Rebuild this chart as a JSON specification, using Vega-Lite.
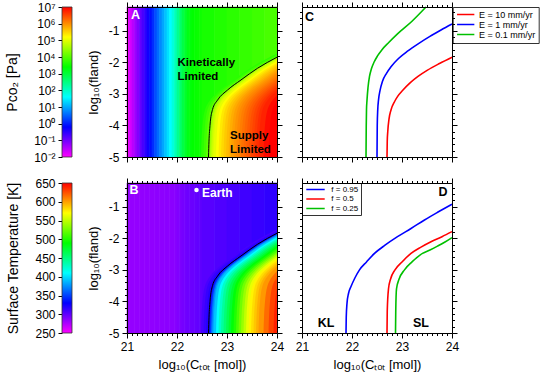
{
"$schema":"https://vega.github.io/schema/vega-lite/v6.json",
"padding":{"left":5,"top":1,"right":5,"bottom":5},
"config":{
 "font":"Liberation Sans",
 "view":{"stroke":null},
 "axis":{"labelFont":"Liberation Sans","titleFont":"Liberation Sans","labelFontSize":12,"titleFontSize":13,"titleFontWeight":"normal","labelColor":"#000","titleColor":"#000","tickColor":"#000","domainColor":"#000","grid":false,"labelFlush":false,"labelOverlap":false,"tickWidth":1,"domainWidth":1},
 "legend":{"labelFont":"Liberation Sans"}
},
"columns":3,
"spacing":{"row":26,"column":25},
"bounds":"flush",
"align":"each",
"resolve":{"scale":{"color":"independent","fill":"independent","stroke":"independent","x":"independent","y":"independent"},"legend":{"color":"independent","fill":"independent","stroke":"independent"}},
"datasets":{
 "kl":[
  {"x":21,"x2":21.05,"v":-1.9},{"x":21.05,"x2":21.1,"v":-1.7},{"x":21.1,"x2":21.15,"v":-1.5},{"x":21.15,"x2":21.2,"v":-1.3},{"x":21.2,"x2":21.25,"v":-1.1},{"x":21.25,"x2":21.3,"v":-0.9},{"x":21.3,"x2":21.35,"v":-0.71},{"x":21.35,"x2":21.4,"v":-0.52},{"x":21.4,"x2":21.45,"v":-0.32},{"x":21.45,"x2":21.5,"v":-0.11},{"x":21.5,"x2":21.55,"v":0.11},{"x":21.55,"x2":21.6,"v":0.34},{"x":21.6,"x2":21.65,"v":0.56},{"x":21.65,"x2":21.7,"v":0.77},{"x":21.7,"x2":21.75,"v":0.97},{"x":21.75,"x2":21.8,"v":1.17},{"x":21.8,"x2":21.85,"v":1.38},{"x":21.85,"x2":21.9,"v":1.59},{"x":21.9,"x2":21.95,"v":1.84},{"x":21.95,"x2":22,"v":2.11},{"x":22,"x2":22.05,"v":2.39},{"x":22.05,"x2":22.1,"v":2.66},{"x":22.1,"x2":22.15,"v":2.9},{"x":22.15,"x2":22.2,"v":3.1},{"x":22.2,"x2":22.25,"v":3.25},{"x":22.25,"x2":22.3,"v":3.34},{"x":22.3,"x2":22.35,"v":3.4},{"x":22.35,"x2":22.4,"v":3.44},{"x":22.4,"x2":22.45,"v":3.47},{"x":22.45,"x2":22.5,"v":3.5},{"x":22.5,"x2":22.75,"v":3.56},{"x":22.75,"x2":23,"v":3.63},{"x":23,"x2":23.25,"v":3.7},{"x":23.25,"x2":23.5,"v":3.77},{"x":23.5,"x2":23.75,"v":3.84},{"x":23.75,"x2":24,"v":3.91}
 ],
 "lev":[
  {"v":3.7,"x":22.48,"y":-5},{"v":3.7,"x":22.49,"y":-4.5},{"v":3.7,"x":22.51,"y":-4},{"v":3.7,"x":22.56,"y":-3.5},{"v":3.7,"x":22.66,"y":-3.2},{"v":3.7,"x":22.86,"y":-2.88},{"v":3.7,"x":23.13,"y":-2.56},{"v":3.7,"x":23.46,"y":-2.19},{"v":3.7,"x":23.85,"y":-1.84},{"v":3.7,"x":24.3,"y":-1.5},
  {"v":3.85,"x":22.53,"y":-5},{"v":3.85,"x":22.54,"y":-4.5},{"v":3.85,"x":22.56,"y":-4},{"v":3.85,"x":22.61,"y":-3.5},{"v":3.85,"x":22.71,"y":-3.2},{"v":3.85,"x":22.91,"y":-2.88},{"v":3.85,"x":23.18,"y":-2.56},{"v":3.85,"x":23.51,"y":-2.19},{"v":3.85,"x":23.9,"y":-1.84},{"v":3.85,"x":24.35,"y":-1.5},
  {"v":4.05,"x":22.58,"y":-5},{"v":4.05,"x":22.59,"y":-4.5},{"v":4.05,"x":22.61,"y":-4},{"v":4.05,"x":22.66,"y":-3.5},{"v":4.05,"x":22.76,"y":-3.2},{"v":4.05,"x":22.96,"y":-2.88},{"v":4.05,"x":23.23,"y":-2.56},{"v":4.05,"x":23.56,"y":-2.19},{"v":4.05,"x":23.95,"y":-1.84},{"v":4.05,"x":24.4,"y":-1.5},
  {"v":4.35,"x":22.63,"y":-5},{"v":4.35,"x":22.64,"y":-4.5},{"v":4.35,"x":22.66,"y":-4},{"v":4.35,"x":22.71,"y":-3.5},{"v":4.35,"x":22.81,"y":-3.2},{"v":4.35,"x":23.01,"y":-2.88},{"v":4.35,"x":23.28,"y":-2.56},{"v":4.35,"x":23.61,"y":-2.19},{"v":4.35,"x":24,"y":-1.84},{"v":4.35,"x":24.45,"y":-1.5},
  {"v":4.6,"x":22.655,"y":-5},{"v":4.6,"x":22.665,"y":-4.5},{"v":4.6,"x":22.685,"y":-4},{"v":4.6,"x":22.735,"y":-3.5},{"v":4.6,"x":22.835,"y":-3.2},{"v":4.6,"x":23.035,"y":-2.88},{"v":4.6,"x":23.305,"y":-2.56},{"v":4.6,"x":23.635,"y":-2.19},{"v":4.6,"x":24.025,"y":-1.84},
  {"v":4.78,"x":22.68,"y":-5},{"v":4.78,"x":22.69,"y":-4.5},{"v":4.78,"x":22.71,"y":-4},{"v":4.78,"x":22.76,"y":-3.5},{"v":4.78,"x":22.86,"y":-3.2},{"v":4.78,"x":23.06,"y":-2.88},{"v":4.78,"x":23.33,"y":-2.56},{"v":4.78,"x":23.66,"y":-2.19},{"v":4.78,"x":24.05,"y":-1.84},
  {"v":4.92,"x":22.705,"y":-5},{"v":4.92,"x":22.715,"y":-4.5},{"v":4.92,"x":22.735,"y":-4},{"v":4.92,"x":22.785,"y":-3.5},{"v":4.92,"x":22.885,"y":-3.2},{"v":4.92,"x":23.085,"y":-2.88},{"v":4.92,"x":23.355,"y":-2.56},{"v":4.92,"x":23.685,"y":-2.19},{"v":4.92,"x":24.075,"y":-1.84},
  {"v":5.03,"x":22.73,"y":-5},{"v":5.03,"x":22.74,"y":-4.5},{"v":5.03,"x":22.76,"y":-4},{"v":5.03,"x":22.81,"y":-3.5},{"v":5.03,"x":22.91,"y":-3.2},{"v":5.03,"x":23.11,"y":-2.88},{"v":5.03,"x":23.38,"y":-2.56},{"v":5.03,"x":23.71,"y":-2.19},{"v":5.03,"x":24.1,"y":-1.84},
  {"v":5.2,"x":22.78,"y":-5},{"v":5.2,"x":22.79,"y":-4.5},{"v":5.2,"x":22.81,"y":-4},{"v":5.2,"x":22.86,"y":-3.5},{"v":5.2,"x":22.96,"y":-3.2},{"v":5.2,"x":23.16,"y":-2.88},{"v":5.2,"x":23.43,"y":-2.56},{"v":5.2,"x":23.76,"y":-2.19},{"v":5.2,"x":24.15,"y":-1.84},
  {"v":5.35,"x":22.83,"y":-5},{"v":5.35,"x":22.84,"y":-4.5},{"v":5.35,"x":22.86,"y":-4},{"v":5.35,"x":22.91,"y":-3.5},{"v":5.35,"x":23.01,"y":-3.2},{"v":5.35,"x":23.21,"y":-2.88},{"v":5.35,"x":23.48,"y":-2.56},{"v":5.35,"x":23.81,"y":-2.19},{"v":5.35,"x":24.2,"y":-1.84},
  {"v":5.47,"x":22.88,"y":-5},{"v":5.47,"x":22.89,"y":-4.5},{"v":5.47,"x":22.91,"y":-4},{"v":5.47,"x":22.96,"y":-3.5},{"v":5.47,"x":23.06,"y":-3.2},{"v":5.47,"x":23.26,"y":-2.88},{"v":5.47,"x":23.53,"y":-2.56},{"v":5.47,"x":23.86,"y":-2.19},{"v":5.47,"x":24.25,"y":-1.84},
  {"v":5.58,"x":22.93,"y":-5},{"v":5.58,"x":22.94,"y":-4.5},{"v":5.58,"x":22.96,"y":-4},{"v":5.58,"x":23.01,"y":-3.5},{"v":5.58,"x":23.11,"y":-3.2},{"v":5.58,"x":23.31,"y":-2.88},{"v":5.58,"x":23.58,"y":-2.56},{"v":5.58,"x":23.91,"y":-2.19},{"v":5.58,"x":24.3,"y":-1.84},
  {"v":5.68,"x":22.98,"y":-5},{"v":5.68,"x":22.99,"y":-4.5},{"v":5.68,"x":23.01,"y":-4},{"v":5.68,"x":23.06,"y":-3.5},{"v":5.68,"x":23.16,"y":-3.2},{"v":5.68,"x":23.36,"y":-2.88},{"v":5.68,"x":23.63,"y":-2.56},{"v":5.68,"x":23.96,"y":-2.19},{"v":5.68,"x":24.35,"y":-1.84},
  {"v":5.78,"x":23.03,"y":-5},{"v":5.78,"x":23.04,"y":-4.5},{"v":5.78,"x":23.06,"y":-4},{"v":5.78,"x":23.11,"y":-3.5},{"v":5.78,"x":23.21,"y":-3.2},{"v":5.78,"x":23.41,"y":-2.88},{"v":5.78,"x":23.68,"y":-2.56},{"v":5.78,"x":24.01,"y":-2.19},
  {"v":5.88,"x":23.08,"y":-5},{"v":5.88,"x":23.09,"y":-4.5},{"v":5.88,"x":23.11,"y":-4},{"v":5.88,"x":23.16,"y":-3.5},{"v":5.88,"x":23.26,"y":-3.2},{"v":5.88,"x":23.46,"y":-2.88},{"v":5.88,"x":23.73,"y":-2.56},{"v":5.88,"x":24.06,"y":-2.19},
  {"v":5.96,"x":23.13,"y":-5},{"v":5.96,"x":23.14,"y":-4.5},{"v":5.96,"x":23.16,"y":-4},{"v":5.96,"x":23.21,"y":-3.5},{"v":5.96,"x":23.31,"y":-3.2},{"v":5.96,"x":23.51,"y":-2.88},{"v":5.96,"x":23.78,"y":-2.56},{"v":5.96,"x":24.11,"y":-2.19},
  {"v":6.04,"x":23.18,"y":-5},{"v":6.04,"x":23.19,"y":-4.5},{"v":6.04,"x":23.21,"y":-4},{"v":6.04,"x":23.26,"y":-3.5},{"v":6.04,"x":23.36,"y":-3.2},{"v":6.04,"x":23.56,"y":-2.88},{"v":6.04,"x":23.83,"y":-2.56},{"v":6.04,"x":24.16,"y":-2.19},
  {"v":6.12,"x":23.23,"y":-5},{"v":6.12,"x":23.24,"y":-4.5},{"v":6.12,"x":23.26,"y":-4},{"v":6.12,"x":23.31,"y":-3.5},{"v":6.12,"x":23.41,"y":-3.2},{"v":6.12,"x":23.61,"y":-2.88},{"v":6.12,"x":23.88,"y":-2.56},{"v":6.12,"x":24.21,"y":-2.19},
  {"v":6.2,"x":23.28,"y":-5},{"v":6.2,"x":23.29,"y":-4.5},{"v":6.2,"x":23.31,"y":-4},{"v":6.2,"x":23.36,"y":-3.5},{"v":6.2,"x":23.46,"y":-3.2},{"v":6.2,"x":23.66,"y":-2.88},{"v":6.2,"x":23.93,"y":-2.56},{"v":6.2,"x":24.26,"y":-2.19},
  {"v":6.28,"x":23.33,"y":-5},{"v":6.28,"x":23.34,"y":-4.5},{"v":6.28,"x":23.36,"y":-4},{"v":6.28,"x":23.41,"y":-3.5},{"v":6.28,"x":23.51,"y":-3.2},{"v":6.28,"x":23.71,"y":-2.88},{"v":6.28,"x":23.98,"y":-2.56},{"v":6.28,"x":24.31,"y":-2.19},
  {"v":6.36,"x":23.38,"y":-5},{"v":6.36,"x":23.39,"y":-4.5},{"v":6.36,"x":23.41,"y":-4},{"v":6.36,"x":23.46,"y":-3.5},{"v":6.36,"x":23.56,"y":-3.2},{"v":6.36,"x":23.76,"y":-2.88},{"v":6.36,"x":24.03,"y":-2.56},
  {"v":6.44,"x":23.43,"y":-5},{"v":6.44,"x":23.44,"y":-4.5},{"v":6.44,"x":23.46,"y":-4},{"v":6.44,"x":23.51,"y":-3.5},{"v":6.44,"x":23.61,"y":-3.2},{"v":6.44,"x":23.81,"y":-2.88},{"v":6.44,"x":24.08,"y":-2.56},
  {"v":6.52,"x":23.48,"y":-5},{"v":6.52,"x":23.49,"y":-4.5},{"v":6.52,"x":23.51,"y":-4},{"v":6.52,"x":23.56,"y":-3.5},{"v":6.52,"x":23.66,"y":-3.2},{"v":6.52,"x":23.86,"y":-2.88},{"v":6.52,"x":24.13,"y":-2.56},
  {"v":6.6,"x":23.53,"y":-5},{"v":6.6,"x":23.54,"y":-4.5},{"v":6.6,"x":23.56,"y":-4},{"v":6.6,"x":23.61,"y":-3.5},{"v":6.6,"x":23.71,"y":-3.2},{"v":6.6,"x":23.91,"y":-2.88},{"v":6.6,"x":24.18,"y":-2.56},
  {"v":6.68,"x":23.58,"y":-5},{"v":6.68,"x":23.59,"y":-4.5},{"v":6.68,"x":23.61,"y":-4},{"v":6.68,"x":23.66,"y":-3.5},{"v":6.68,"x":23.76,"y":-3.2},{"v":6.68,"x":23.96,"y":-2.88},{"v":6.68,"x":24.23,"y":-2.56},
  {"v":6.76,"x":23.63,"y":-5},{"v":6.76,"x":23.64,"y":-4.5},{"v":6.76,"x":23.66,"y":-4},{"v":6.76,"x":23.71,"y":-3.5},{"v":6.76,"x":23.81,"y":-3.2},{"v":6.76,"x":24.01,"y":-2.88},
  {"v":6.92,"x":23.73,"y":-5},{"v":6.92,"x":23.74,"y":-4.5},{"v":6.92,"x":23.76,"y":-4},{"v":6.92,"x":23.81,"y":-3.5},{"v":6.92,"x":23.91,"y":-3.2},{"v":6.92,"x":24.11,"y":-2.88},
  {"v":7.08,"x":23.83,"y":-5},{"v":7.08,"x":23.84,"y":-4.5},{"v":7.08,"x":23.86,"y":-4},{"v":7.08,"x":23.91,"y":-3.5},{"v":7.08,"x":24.01,"y":-3.2},
  {"v":7.22,"x":23.93,"y":-5},{"v":7.22,"x":23.94,"y":-4.5},{"v":7.22,"x":23.96,"y":-4},{"v":7.22,"x":24.01,"y":-3.5}
 ],
 "ctr":[{"x":22.63,"y":-5},{"x":22.64,"y":-4.5},{"x":22.66,"y":-4},{"x":22.71,"y":-3.5},{"x":22.81,"y":-3.2},{"x":23.01,"y":-2.88},{"x":23.28,"y":-2.56},{"x":23.61,"y":-2.19},{"x":24,"y":-1.84}],
 "linesC":[
  {"s":"E = 10 mm/yr","x":22.7,"y":-5},{"s":"E = 10 mm/yr","x":22.705,"y":-4.5},{"s":"E = 10 mm/yr","x":22.715,"y":-4.2},{"s":"E = 10 mm/yr","x":22.74,"y":-3.8},{"s":"E = 10 mm/yr","x":22.78,"y":-3.51},{"s":"E = 10 mm/yr","x":22.85,"y":-3.25},{"s":"E = 10 mm/yr","x":22.91,"y":-3.09},{"s":"E = 10 mm/yr","x":23.02,"y":-2.88},{"s":"E = 10 mm/yr","x":23.15,"y":-2.67},{"s":"E = 10 mm/yr","x":23.32,"y":-2.45},{"s":"E = 10 mm/yr","x":23.51,"y":-2.25},{"s":"E = 10 mm/yr","x":23.75,"y":-2.04},{"s":"E = 10 mm/yr","x":24,"y":-1.84},
  {"s":"E = 1 mm/yr","x":22.5,"y":-5},{"s":"E = 1 mm/yr","x":22.505,"y":-4},{"s":"E = 1 mm/yr","x":22.515,"y":-3.5},{"s":"E = 1 mm/yr","x":22.53,"y":-3.2},{"s":"E = 1 mm/yr","x":22.56,"y":-2.9},{"s":"E = 1 mm/yr","x":22.61,"y":-2.6},{"s":"E = 1 mm/yr","x":22.69,"y":-2.35},{"s":"E = 1 mm/yr","x":22.78,"y":-2.14},{"s":"E = 1 mm/yr","x":22.93,"y":-1.88},{"s":"E = 1 mm/yr","x":23.11,"y":-1.65},{"s":"E = 1 mm/yr","x":23.33,"y":-1.41},{"s":"E = 1 mm/yr","x":23.55,"y":-1.19},{"s":"E = 1 mm/yr","x":23.78,"y":-0.98},{"s":"E = 1 mm/yr","x":24,"y":-0.79},
  {"s":"E = 0.1 mm/yr","x":22.28,"y":-5},{"s":"E = 0.1 mm/yr","x":22.285,"y":-4},{"s":"E = 0.1 mm/yr","x":22.29,"y":-3.5},{"s":"E = 0.1 mm/yr","x":22.3,"y":-3.2},{"s":"E = 0.1 mm/yr","x":22.32,"y":-2.8},{"s":"E = 0.1 mm/yr","x":22.35,"y":-2.45},{"s":"E = 0.1 mm/yr","x":22.39,"y":-2.2},{"s":"E = 0.1 mm/yr","x":22.44,"y":-2},{"s":"E = 0.1 mm/yr","x":22.51,"y":-1.8},{"s":"E = 0.1 mm/yr","x":22.6,"y":-1.6},{"s":"E = 0.1 mm/yr","x":22.73,"y":-1.38},{"s":"E = 0.1 mm/yr","x":22.91,"y":-1.1},{"s":"E = 0.1 mm/yr","x":23.2,"y":-0.7},{"s":"E = 0.1 mm/yr","x":23.48,"y":-0.25}
 ],
 "linesD":[
  {"s":"f = 0.95","x":21.88,"y":-5},{"s":"f = 0.95","x":21.885,"y":-4.5},{"s":"f = 0.95","x":21.9,"y":-4.06},{"s":"f = 0.95","x":21.93,"y":-3.75},{"s":"f = 0.95","x":21.98,"y":-3.53},{"s":"f = 0.95","x":22.06,"y":-3.25},{"s":"f = 0.95","x":22.15,"y":-3},{"s":"f = 0.95","x":22.29,"y":-2.75},{"s":"f = 0.95","x":22.45,"y":-2.48},{"s":"f = 0.95","x":22.66,"y":-2.22},{"s":"f = 0.95","x":22.91,"y":-1.95},{"s":"f = 0.95","x":23.18,"y":-1.69},{"s":"f = 0.95","x":23.45,"y":-1.42},{"s":"f = 0.95","x":23.72,"y":-1.17},{"s":"f = 0.95","x":24,"y":-0.92},
  {"s":"f = 0.5","x":22.7,"y":-5},{"s":"f = 0.5","x":22.705,"y":-4.3},{"s":"f = 0.5","x":22.73,"y":-3.6},{"s":"f = 0.5","x":22.77,"y":-3.3},{"s":"f = 0.5","x":22.86,"y":-3},{"s":"f = 0.5","x":23,"y":-2.75},{"s":"f = 0.5","x":23.18,"y":-2.48},{"s":"f = 0.5","x":23.38,"y":-2.28},{"s":"f = 0.5","x":23.58,"y":-2.11},{"s":"f = 0.5","x":23.8,"y":-1.95},{"s":"f = 0.5","x":24,"y":-1.79},
  {"s":"f = 0.25","x":22.87,"y":-5},{"s":"f = 0.25","x":22.875,"y":-4.3},{"s":"f = 0.25","x":22.89,"y":-3.6},{"s":"f = 0.25","x":22.94,"y":-3.3},{"s":"f = 0.25","x":23.05,"y":-3},{"s":"f = 0.25","x":23.2,"y":-2.75},{"s":"f = 0.25","x":23.41,"y":-2.48},{"s":"f = 0.25","x":23.56,"y":-2.37},{"s":"f = 0.25","x":23.71,"y":-2.25},{"s":"f = 0.25","x":23.86,"y":-2.12},{"s":"f = 0.25","x":24,"y":-1.98}
 ]
},
"concat":[
 {"width":40,"height":150,"data":{"values":[{"lo":-2,"hi":7}]},
  "mark":{"type":"rect","fill":{"gradient":"linear","x1":0,"y1":1,"x2":0,"y2":0,"stops":[{"offset":0,"color":"#ff00ff"},{"offset":0.2,"color":"#0000ff"},{"offset":0.4,"color":"#00ffff"},{"offset":0.6,"color":"#00ff00"},{"offset":0.8,"color":"#ffff00"},{"offset":1,"color":"#ff0000"}]},"stroke":"#333","strokeWidth":0.8},
  "encoding":{
   "x":{"datum":0,"type":"quantitative","scale":{"domain":[0,4]},"axis":null},
   "x2":{"datum":1},
   "y":{"field":"lo","type":"quantitative","scale":{"domain":[-2,7],"nice":false,"zero":false},"axis":{"orient":"left","values":[-2,-1,0,1,2,3,4,5,6,7],"labelExpr":"'10' + ['⁻²','⁻¹','⁰','¹','²','³','⁴','⁵','⁶','⁷'][datum.value + 2]","tickSize":4,"labelPadding":3,"domain":false,"title":"Pᴄᴏ₂ [Pa]","titleFontSize":14,"titlePadding":14}},
   "y2":{"field":"hi"}}},
 {"width":150,"height":150,
  "layer":[
   {"data":{"name":"kl"},"mark":{"type":"rect","strokeWidth":0.6},
    "encoding":{
     "x":{"field":"x","type":"quantitative","scale":{"domain":[21,24],"nice":false,"zero":false},"axis":{"orient":"bottom","tickCount":30,"tickSize":{"condition":{"test":"abs(datum.value-round(datum.value))<0.001","value":5},"value":2.5},"labels":false,"title":null,"domain":true,"zindex":1}},
     "x2":{"field":"x2"},
     "y":{"datum":-5,"type":"quantitative","scale":{"domain":[-5,-0.25],"nice":false,"zero":false},"axis":{"orient":"left","tickCount":24,"tickSize":{"condition":{"test":"abs(datum.value-round(datum.value))<0.001","value":5},"value":2.5},"labelExpr":"abs(datum.value-round(datum.value))<0.001 ? '' + round(datum.value) : ''","labelPadding":3,"title":"log₁₀(fland)","titlePadding":8,"domain":true,"zindex":1}},
     "y2":{"datum":-0.25},
     "fill":{"field":"v","type":"quantitative","scale":{"type":"linear","domain":[-2,-0.2,1.6,3.4,5.2,7],"range":["#ff00ff","#0000ff","#00ffff","#00ff00","#ffff00","#ff0000"],"clamp":true,"interpolate":"rgb"},"legend":null},
     "stroke":{"field":"v","type":"quantitative","scale":{"type":"linear","domain":[-2,-0.2,1.6,3.4,5.2,7],"range":["#ff00ff","#0000ff","#00ffff","#00ff00","#ffff00","#ff0000"],"clamp":true,"interpolate":"rgb"},"legend":null}}},
   {"data":{"name":"lev"},"mark":{"type":"area","orient":"horizontal","interpolate":"monotone","clip":true},
    "encoding":{
     "y":{"field":"y","type":"quantitative","scale":{"domain":[-5,-0.25],"nice":false,"zero":false},"axis":null},
     "x":{"field":"x","type":"quantitative","scale":{"domain":[21,24],"nice":false,"zero":false},"axis":null,"stack":null},
     "x2":{"datum":24},
     "fill":{"field":"v","type":"quantitative","scale":{"type":"linear","domain":[-2,-0.2,1.6,3.4,5.2,7],"range":["#ff00ff","#0000ff","#00ffff","#00ff00","#ffff00","#ff0000"],"clamp":true,"interpolate":"rgb"},"legend":null},
     "detail":{"field":"v","type":"quantitative"}}},
   {"data":{"name":"ctr"},"mark":{"type":"line","color":"black","strokeWidth":1,"interpolate":"monotone"},
    "encoding":{
     "x":{"field":"x","type":"quantitative","scale":{"domain":[21,24],"nice":false,"zero":false},"axis":{"orient":"top","tickCount":30,"tickSize":{"condition":{"test":"abs(datum.value-round(datum.value))<0.001","value":5},"value":2.5},"labels":false,"title":null,"domain":true,"zindex":1}},
     "y":{"field":"y","type":"quantitative","scale":{"domain":[-5,-0.25],"nice":false,"zero":false},"axis":{"orient":"right","tickCount":24,"tickSize":{"condition":{"test":"abs(datum.value-round(datum.value))<0.001","value":5},"value":2.5},"labels":false,"title":null,"domain":true,"zindex":1}}}},
   {"data":{"values":[{"t":"A"}]},"mark":{"type":"text","fontSize":12.5,"fontWeight":"bold","color":"white","align":"left","baseline":"alphabetic"},
    "encoding":{"x":{"datum":21.08,"type":"quantitative","scale":{"domain":[21,24],"nice":false,"zero":false},"axis":null},"y":{"datum":-0.64,"type":"quantitative","scale":{"domain":[-5,-0.25],"nice":false,"zero":false},"axis":null},"text":{"field":"t"}}},
   {"data":{"values":[{"t":"Kinetically"}]},"mark":{"type":"text","fontSize":11.5,"fontWeight":"bold","color":"black","align":"left","baseline":"alphabetic"},
    "encoding":{"x":{"datum":22.01,"type":"quantitative","scale":{"domain":[21,24],"nice":false,"zero":false},"axis":null},"y":{"datum":-2.12,"type":"quantitative","scale":{"domain":[-5,-0.25],"nice":false,"zero":false},"axis":null},"text":{"field":"t"}}},
   {"data":{"values":[{"t":"Limited"}]},"mark":{"type":"text","fontSize":11.5,"fontWeight":"bold","color":"black","align":"left","baseline":"alphabetic"},
    "encoding":{"x":{"datum":22.01,"type":"quantitative","scale":{"domain":[21,24],"nice":false,"zero":false},"axis":null},"y":{"datum":-2.55,"type":"quantitative","scale":{"domain":[-5,-0.25],"nice":false,"zero":false},"axis":null},"text":{"field":"t"}}},
   {"data":{"values":[{"t":"Supply"}]},"mark":{"type":"text","fontSize":11.5,"fontWeight":"bold","color":"black","align":"left","baseline":"alphabetic"},
    "encoding":{"x":{"datum":23.06,"type":"quantitative","scale":{"domain":[21,24],"nice":false,"zero":false},"axis":null},"y":{"datum":-4.43,"type":"quantitative","scale":{"domain":[-5,-0.25],"nice":false,"zero":false},"axis":null},"text":{"field":"t"}}},
   {"data":{"values":[{"t":"Limited"}]},"mark":{"type":"text","fontSize":11.5,"fontWeight":"bold","color":"black","align":"left","baseline":"alphabetic"},
    "encoding":{"x":{"datum":23.06,"type":"quantitative","scale":{"domain":[21,24],"nice":false,"zero":false},"axis":null},"y":{"datum":-4.86,"type":"quantitative","scale":{"domain":[-5,-0.25],"nice":false,"zero":false},"axis":null},"text":{"field":"t"}}}
  ],
  "resolve":{"axis":{"x":"independent","y":"independent"}}},
 {"width":150,"height":150,
  "layer":[
   {"data":{"name":"linesC"},"mark":{"type":"line","strokeWidth":1.6,"interpolate":"monotone"},
    "encoding":{
     "x":{"field":"x","type":"quantitative","scale":{"domain":[21,24],"nice":false,"zero":false},"axis":{"orient":"bottom","tickCount":30,"tickSize":{"condition":{"test":"abs(datum.value-round(datum.value))<0.001","value":5},"value":2.5},"labels":false,"title":null,"domain":true,"zindex":1}},
     "y":{"field":"y","type":"quantitative","scale":{"domain":[-5,-0.25],"nice":false,"zero":false},"axis":{"orient":"left","tickCount":24,"tickSize":{"condition":{"test":"abs(datum.value-round(datum.value))<0.001","value":5},"value":2.5},"labels":false,"title":null,"domain":true,"zindex":1}},
     "color":{"field":"s","type":"nominal","scale":{"domain":["E = 10 mm/yr","E = 1 mm/yr","E = 0.1 mm/yr"],"range":["#ff0000","#0000ff","#00c000"]},
       "legend":{"orient":"none","legendX":150.7,"legendY":0,"title":null,"symbolType":"M-2.47,0H2.47","symbolSize":49,"symbolStrokeWidth":1.5,"symbolOffset":5.5,"labelOffset":8.8,"labelFontSize":9,"strokeColor":"#333","fillColor":"white","padding":3,"rowPadding":0}}}},
   {"data":{"values":[{"t":"C"}]},"mark":{"type":"text","fontSize":12.5,"fontWeight":"bold","color":"black","align":"left","baseline":"alphabetic"},
    "encoding":{
     "x":{"datum":21.06,"type":"quantitative","scale":{"domain":[21,24],"nice":false,"zero":false},"axis":{"orient":"top","tickCount":30,"tickSize":{"condition":{"test":"abs(datum.value-round(datum.value))<0.001","value":5},"value":2.5},"labels":false,"title":null,"domain":true,"zindex":1}},
     "y":{"datum":-0.68,"type":"quantitative","scale":{"domain":[-5,-0.25],"nice":false,"zero":false},"axis":{"orient":"right","tickCount":24,"tickSize":{"condition":{"test":"abs(datum.value-round(datum.value))<0.001","value":5},"value":2.5},"labels":false,"title":null,"domain":true,"zindex":1}},
     "text":{"field":"t"}}}
  ],
  "resolve":{"axis":{"x":"independent","y":"independent"}}},
 {"width":40,"height":150,"data":{"values":[{"lo":250,"hi":650}]},
  "mark":{"type":"rect","fill":{"gradient":"linear","x1":0,"y1":1,"x2":0,"y2":0,"stops":[{"offset":0,"color":"#ff00ff"},{"offset":0.2,"color":"#0000ff"},{"offset":0.4,"color":"#00ffff"},{"offset":0.6,"color":"#00ff00"},{"offset":0.8,"color":"#ffff00"},{"offset":1,"color":"#ff0000"}]},"stroke":"#333","strokeWidth":0.8},
  "encoding":{
   "x":{"datum":0,"type":"quantitative","scale":{"domain":[0,4]},"axis":null},
   "x2":{"datum":1},
   "y":{"field":"lo","type":"quantitative","scale":{"domain":[250,650],"nice":false,"zero":false},"axis":{"orient":"left","values":[250,300,350,400,450,500,550,600,650],"tickSize":4,"labelPadding":3,"domain":false,"title":"Surface Temperature [K]","titleFontSize":14,"titlePadding":14}},
   "y2":{"field":"hi"}}},
 {"width":150,"height":150,
  "layer":[
   {"data":{"name":"kl"},"mark":{"type":"rect","strokeWidth":0.6},
    "encoding":{
     "x":{"field":"x","type":"quantitative","scale":{"domain":[21,24],"nice":false,"zero":false},"axis":{"orient":"bottom","tickCount":30,"tickSize":{"condition":{"test":"abs(datum.value-round(datum.value))<0.001","value":5},"value":2.5},"labelExpr":"abs(datum.value-round(datum.value))<0.001 ? '' + round(datum.value) : ''","labelPadding":3,"title":"log₁₀(Cₜₒₜ [mol])","titlePadding":6,"domain":true,"zindex":1}},
     "x2":{"field":"x2"},
     "y":{"datum":-5,"type":"quantitative","scale":{"domain":[-5,-0.25],"nice":false,"zero":false},"axis":{"orient":"left","tickCount":24,"tickSize":{"condition":{"test":"abs(datum.value-round(datum.value))<0.001","value":5},"value":2.5},"labelExpr":"abs(datum.value-round(datum.value))<0.001 ? '' + round(datum.value) : ''","labelPadding":3,"title":"log₁₀(fland)","titlePadding":8,"domain":true,"zindex":1}},
     "y2":{"datum":-0.25},
     "fill":{"field":"v","type":"quantitative","scale":{"type":"linear","domain":[-2,2,3.4,3.9,4.35,4.45,5.2,5.9,6.4,6.9,7.35],"range":["#9600ff","#8a00ff","#6a00ff","#3000ff","#1000ff","#0000ff","#00ffff","#00ff00","#ffff00","#ff7000","#ff0000"],"clamp":true,"interpolate":"rgb"},"legend":null},
     "stroke":{"field":"v","type":"quantitative","scale":{"type":"linear","domain":[-2,2,3.4,3.9,4.35,4.45,5.2,5.9,6.4,6.9,7.35],"range":["#9600ff","#8a00ff","#6a00ff","#3000ff","#1000ff","#0000ff","#00ffff","#00ff00","#ffff00","#ff7000","#ff0000"],"clamp":true,"interpolate":"rgb"},"legend":null}}},
   {"data":{"name":"lev"},"mark":{"type":"area","orient":"horizontal","interpolate":"monotone","clip":true},
    "encoding":{
     "y":{"field":"y","type":"quantitative","scale":{"domain":[-5,-0.25],"nice":false,"zero":false},"axis":null},
     "x":{"field":"x","type":"quantitative","scale":{"domain":[21,24],"nice":false,"zero":false},"axis":null,"stack":null},
     "x2":{"datum":24},
     "fill":{"field":"v","type":"quantitative","scale":{"type":"linear","domain":[-2,2,3.4,3.9,4.35,4.45,5.2,5.9,6.4,6.9,7.35],"range":["#9600ff","#8a00ff","#6a00ff","#3000ff","#1000ff","#0000ff","#00ffff","#00ff00","#ffff00","#ff7000","#ff0000"],"clamp":true,"interpolate":"rgb"},"legend":null},
     "detail":{"field":"v","type":"quantitative"}}},
   {"data":{"name":"ctr"},"mark":{"type":"line","color":"black","strokeWidth":1,"interpolate":"monotone"},
    "encoding":{
     "x":{"field":"x","type":"quantitative","scale":{"domain":[21,24],"nice":false,"zero":false},"axis":{"orient":"top","tickCount":30,"tickSize":{"condition":{"test":"abs(datum.value-round(datum.value))<0.001","value":5},"value":2.5},"labels":false,"title":null,"domain":true,"zindex":1}},
     "y":{"field":"y","type":"quantitative","scale":{"domain":[-5,-0.25],"nice":false,"zero":false},"axis":{"orient":"right","tickCount":24,"tickSize":{"condition":{"test":"abs(datum.value-round(datum.value))<0.001","value":5},"value":2.5},"labels":false,"title":null,"domain":true,"zindex":1}}}},
   {"data":{"values":[{"t":"B"}]},"mark":{"type":"text","fontSize":12.5,"fontWeight":"bold","color":"white","align":"left","baseline":"alphabetic"},
    "encoding":{"x":{"datum":21.05,"type":"quantitative","scale":{"domain":[21,24],"nice":false,"zero":false},"axis":null},"y":{"datum":-0.6,"type":"quantitative","scale":{"domain":[-5,-0.25],"nice":false,"zero":false},"axis":null},"text":{"field":"t"}}},
   {"data":{"values":[{"name":"Earth","x":22.39,"y":-0.47}]},"mark":{"type":"point","filled":true,"color":"white","size":20,"opacity":1},
    "encoding":{"x":{"field":"x","type":"quantitative","scale":{"domain":[21,24],"nice":false,"zero":false},"axis":null},"y":{"field":"y","type":"quantitative","scale":{"domain":[-5,-0.25],"nice":false,"zero":false},"axis":null}}},
   {"data":{"values":[{"t":"Earth"}]},"mark":{"type":"text","fontSize":12,"fontWeight":"bold","color":"white","align":"left","baseline":"alphabetic"},
    "encoding":{"x":{"datum":22.5,"type":"quantitative","scale":{"domain":[21,24],"nice":false,"zero":false},"axis":null},"y":{"datum":-0.68,"type":"quantitative","scale":{"domain":[-5,-0.25],"nice":false,"zero":false},"axis":null},"text":{"field":"t"}}}
  ],
  "resolve":{"axis":{"x":"independent","y":"independent"}}},
 {"width":150,"height":150,
  "layer":[
   {"data":{"name":"linesD"},"mark":{"type":"line","strokeWidth":1.6,"interpolate":"monotone"},
    "encoding":{
     "x":{"field":"x","type":"quantitative","scale":{"domain":[21,24],"nice":false,"zero":false},"axis":{"orient":"bottom","tickCount":30,"tickSize":{"condition":{"test":"abs(datum.value-round(datum.value))<0.001","value":5},"value":2.5},"labelExpr":"abs(datum.value-round(datum.value))<0.001 ? '' + round(datum.value) : ''","labelPadding":3,"title":"log₁₀(Cₜₒₜ [mol])","titlePadding":6,"domain":true,"zindex":1}},
     "y":{"field":"y","type":"quantitative","scale":{"domain":[-5,-0.25],"nice":false,"zero":false},"axis":{"orient":"left","tickCount":24,"tickSize":{"condition":{"test":"abs(datum.value-round(datum.value))<0.001","value":5},"value":2.5},"labels":false,"title":null,"domain":true,"zindex":1}},
     "color":{"field":"s","type":"nominal","scale":{"domain":["f = 0.95","f = 0.5","f = 0.25"],"range":["#0000ff","#ff0000","#00c000"]},
       "legend":{"orient":"none","legendX":0,"legendY":0,"title":null,"symbolType":"M-2.63,0H2.63","symbolSize":49,"symbolStrokeWidth":1.5,"symbolOffset":7,"labelOffset":11.3,"labelFontSize":8,"strokeColor":"#333","fillColor":"white","padding":2,"rowPadding":0.5}}}},
   {"data":{"values":[{"t":"D"}]},"mark":{"type":"text","fontSize":12.5,"fontWeight":"bold","color":"black","align":"right","baseline":"alphabetic"},
    "encoding":{
     "x":{"datum":23.91,"type":"quantitative","scale":{"domain":[21,24],"nice":false,"zero":false},"axis":{"orient":"top","tickCount":30,"tickSize":{"condition":{"test":"abs(datum.value-round(datum.value))<0.001","value":5},"value":2.5},"labels":false,"title":null,"domain":true,"zindex":1}},
     "y":{"datum":-0.65,"type":"quantitative","scale":{"domain":[-5,-0.25],"nice":false,"zero":false},"axis":{"orient":"right","tickCount":24,"tickSize":{"condition":{"test":"abs(datum.value-round(datum.value))<0.001","value":5},"value":2.5},"labels":false,"title":null,"domain":true,"zindex":1}},
     "text":{"field":"t"}}},
   {"data":{"values":[{"t":"KL"}]},"mark":{"type":"text","fontSize":12.5,"fontWeight":"bold","color":"black","align":"center","baseline":"alphabetic"},
    "encoding":{"x":{"datum":21.48,"type":"quantitative","scale":{"domain":[21,24],"nice":false,"zero":false},"axis":null},"y":{"datum":-4.82,"type":"quantitative","scale":{"domain":[-5,-0.25],"nice":false,"zero":false},"axis":null},"text":{"field":"t"}}},
   {"data":{"values":[{"t":"SL"}]},"mark":{"type":"text","fontSize":12.5,"fontWeight":"bold","color":"black","align":"center","baseline":"alphabetic"},
    "encoding":{"x":{"datum":23.38,"type":"quantitative","scale":{"domain":[21,24],"nice":false,"zero":false},"axis":null},"y":{"datum":-4.82,"type":"quantitative","scale":{"domain":[-5,-0.25],"nice":false,"zero":false},"axis":null},"text":{"field":"t"}}}
  ],
  "resolve":{"axis":{"x":"independent","y":"independent"}}}
]
}
